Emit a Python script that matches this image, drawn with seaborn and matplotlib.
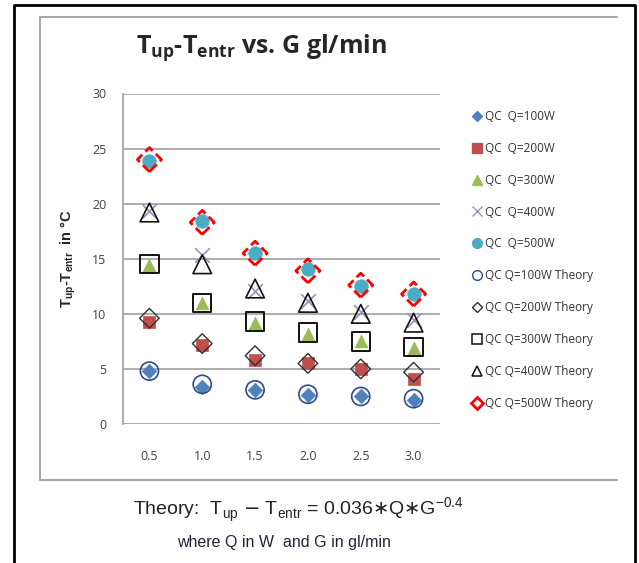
import matplotlib
matplotlib.use("Agg")
import matplotlib.pyplot as plt
import seaborn as sns
import pandas as pd
from matplotlib.lines import Line2D

# flow G (gl/min) categories
g_labels = ["0.5", "1.0", "1.5", "2.0", "2.5", "3.0"]

# measured QC values, Tup - Tentr in C
qc_100 = [4.8, 3.4, 3.1, 2.6, 2.5, 2.2]
qc_200 = [9.3, 7.2, 5.8, 5.5, 5.0, 4.1]
qc_300 = [14.4, 11.0, 9.2, 8.2, 7.5, 6.9]
qc_400 = [19.3, 15.3, 12.1, 11.2, 10.2, 9.4]
qc_500 = [23.9, 18.4, 15.5, 14.1, 12.5, 11.8]

# theory values
th_100 = [4.8, 3.6, 3.1, 2.7, 2.5, 2.3]
th_200 = [9.6, 7.3, 6.2, 5.5, 5.0, 4.7]
th_300 = [14.5, 11.0, 9.3, 8.3, 7.5, 7.0]
th_400 = [19.2, 14.5, 12.3, 11.0, 10.0, 9.2]
th_500 = [24.0, 18.3, 15.5, 13.9, 12.6, 11.8]

series_names = ["QC  Q=100W", "QC  Q=200W", "QC  Q=300W", "QC  Q=400W", "QC  Q=500W",
                "QC Q=100W Theory", "QC Q=200W Theory", "QC Q=300W Theory",
                "QC Q=400W Theory", "QC Q=500W Theory"]
series_values = [qc_100, qc_200, qc_300, qc_400, qc_500,
                 th_100, th_200, th_300, th_400, th_500]

styles = [
    dict(marker="D", s=55, color="#4F81BD", edgecolor="#4F81BD", linewidth=0.5),
    dict(marker="s", s=85, color="#C0504D", edgecolor="#C0504D", linewidth=0.5),
    dict(marker="^", s=85, color="#9BBB59", edgecolor="#9BBB59", linewidth=0.5),
    dict(marker="x", s=110, color="#9E8EC2", linewidth=1.2),
    dict(marker="o", s=95, color="#4BACC6", edgecolor="#4BACC6", linewidth=0.5),
    dict(marker="o", s=170, facecolor="none", edgecolor="#2E4A8C", linewidth=1.2),
    dict(marker="D", s=100, facecolor="none", edgecolor="#303030", linewidth=1.0),
    dict(marker="s", s=175, facecolor="none", edgecolor="#111111", linewidth=1.4),
    dict(marker="^", s=180, facecolor="none", edgecolor="#111111", linewidth=1.2),
    dict(marker="D", s=150, facecolor="none", edgecolor="#FF0000", linewidth=2.0, linestyle="--"),
]

# small legend keys, all about the same size like the original
legend_keys = [
    dict(marker="D", markersize=5.5, color="#4F81BD"),
    dict(marker="s", markersize=7, color="#C0504D"),
    dict(marker="^", markersize=7.5, color="#9BBB59"),
    dict(marker="x", markersize=7, color="#9E8EC2", markeredgewidth=1),
    dict(marker="o", markersize=7, color="#4BACC6"),
    dict(marker="o", markersize=7, markerfacecolor="none", markeredgecolor="#2E4A8C", markeredgewidth=1),
    dict(marker="D", markersize=5.5, markerfacecolor="none", markeredgecolor="#303030", markeredgewidth=1),
    dict(marker="s", markersize=7, markerfacecolor="none", markeredgecolor="#111111", markeredgewidth=1.1),
    dict(marker="^", markersize=7.5, markerfacecolor="none", markeredgecolor="#111111", markeredgewidth=1.1),
    dict(marker="D", markersize=6, markerfacecolor="none", markeredgecolor="#FF0000", markeredgewidth=2),
]

sns.set_style("white")
plt.rcParams['font.family'] = ['Open Sans', 'DejaVu Sans']

fig = plt.figure(figsize=(6.39, 5.63), dpi=100)
ax = fig.add_axes([123 / 639, 1 - 424 / 563, 317 / 639, 330.5 / 563])

for name, vals, st in zip(series_names, series_values, styles):
    df = pd.DataFrame({"G": g_labels, "T": vals})
    sns.scatterplot(data=df, x="G", y="T", ax=ax, zorder=3, legend=False, **st)

ax.set_xlim(-0.5, 5.5)
ax.set_ylim(0, 30)
ax.set_yticks(range(0, 31, 5))
ax.yaxis.grid(True, color="#A6A6A6", linewidth=1.3)
ax.xaxis.grid(False)
for side in ["top", "right", "bottom"]:
    ax.spines[side].set_visible(False)
ax.spines["left"].set_color("#A6A6A6")
ax.spines["left"].set_linewidth(1.3)
ax.tick_params(axis="both", length=0, labelsize=9, colors="#404040")
ax.tick_params(axis="x", pad=19)
ax.tick_params(axis="y", pad=12)
ax.set_xlabel("")
ax.set_ylabel(r"T$_{\mathregular{up}}$-T$_{\mathregular{entr}}$  in °C", fontsize=10.5,
              fontweight="bold", family=["Liberation Sans", "DejaVu Sans"], labelpad=10)

handles = [Line2D([], [], linestyle="none", **k) for k in legend_keys]
ax.legend(handles, series_names, loc="upper left", bbox_to_anchor=(466 / 639, 1 - 104 / 563),
          bbox_transform=fig.transFigure, frameon=False, fontsize=8.5,
          labelspacing=1.6, handletextpad=0.35, handlelength=0.8, borderpad=0,
          labelcolor="#333333")

fig.text(262 / 639, 1 - 47 / 563, r"T$_{\mathregular{up}}$-T$_{\mathregular{entr}}$ vs. G gl/min",
         ha="center", va="center", fontsize=18, fontweight="bold")

fig.text(298 / 639, 1 - 510 / 563,
         r"Theory:  T$_{\mathregular{up}}$ $-$ T$_{\mathregular{entr}}$ = 0.036$\ast$Q$\ast$G$^{\mathregular{-0.4}}$",
         ha="center", va="center", fontsize=14, color="#222222",
         family=["Liberation Sans Narrow", "Liberation Sans", "DejaVu Sans"])
fig.text(284 / 639, 1 - 543 / 563, "where Q in W  and G in gl/min",
         ha="center", va="center", fontsize=11.5, color="#2a1f3a",
         family=["Liberation Sans Narrow", "Liberation Sans", "DejaVu Sans"])

# frame lines: outer black box (open at the bottom) and grey chart area edges
fig.add_artist(Line2D([14 / 639, 14 / 639, 635 / 639, 635 / 639], [-0.05, 1 - 5 / 563, 1 - 5 / 563, -0.05],
                      transform=fig.transFigure, color="black", linewidth=2))
fig.add_artist(Line2D([617 / 639, 40 / 639, 40 / 639, 617 / 639],
                      [1 - 17 / 563, 1 - 17 / 563, 1 - 480 / 563, 1 - 480 / 563],
                      transform=fig.transFigure, color="#A6A6A6", linewidth=1.5))

fig.savefig("out.png", dpi=100)
